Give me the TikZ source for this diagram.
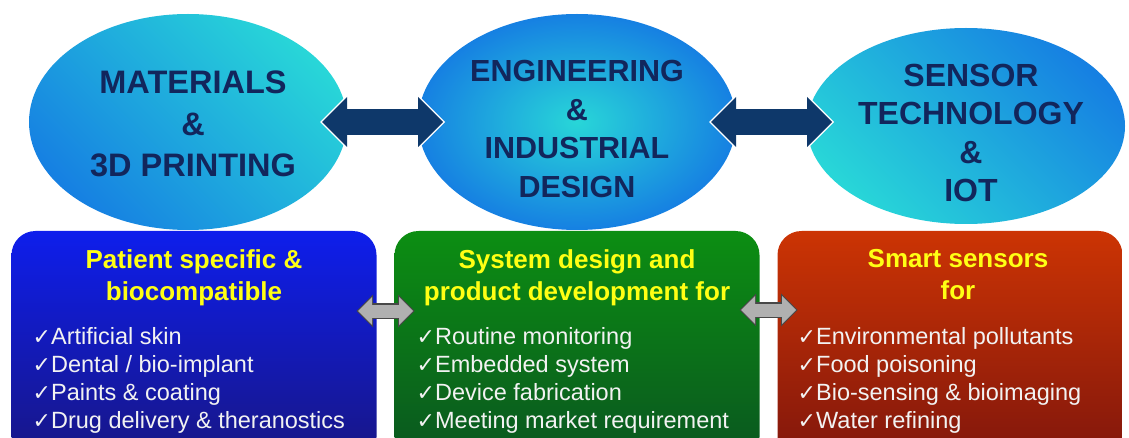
\documentclass[tikz,border=0pt]{standalone}
\usepackage{fontspec}
\setmainfont{Liberation Sans}
\newfontfamily\symfont{DejaVu Sans}
\usetikzlibrary{arrows.meta, shapes.geometric, positioning, calc}
\definecolor{ovalnavy}{RGB}{18,38,92}
\definecolor{ovalcyan}{RGB}{40,214,216}
\definecolor{ovalblue}{RGB}{22,128,226}
\definecolor{linknavy}{RGB}{14,56,106}
\definecolor{linkgray}{RGB}{176,176,176}
\definecolor{linkedge}{RGB}{72,72,72}
\definecolor{titleyellow}{RGB}{255,255,20}
\definecolor{itemwhite}{RGB}{242,242,242}
\definecolor{bluetop}{RGB}{14,30,236}
\definecolor{bluebot}{RGB}{24,22,132}
\definecolor{greentop}{RGB}{12,142,18}
\definecolor{greenbot}{RGB}{10,86,32}
\definecolor{redtop}{RGB}{204,52,4}
\definecolor{redbot}{RGB}{128,22,12}
\newcommand{\tickmark}{{\symfont\fontsize{22}{28}\selectfont ✓}}

\tikzset{
  oval/.style={ellipse, draw=none, minimum width=318pt, minimum height=216pt, inner sep=0pt, outer sep=0pt},
  ovaltext/.style={text=ovalnavy, align=center, inner sep=0pt},
  panel/.style={rectangle, rounded corners=24pt, minimum width=365pt, minimum height=230pt, inner sep=0pt, outer sep=0pt},
  paneltitle/.style={anchor=north, text=titleyellow, align=center, inner sep=0pt, font=\fontsize{26}{32}\selectfont\bfseries},
  panellist/.style={anchor=north west, text=itemwhite, align=left, inner sep=0pt, font=\fontsize{23.5}{28}\selectfont},
  navylink/.style={draw=linknavy, line width=26pt, shorten <=-25pt, shorten >=-25pt,
    arrows={Triangle[length=25pt, width=50pt, line width=0pt]}-{Triangle[length=25pt, width=50pt, line width=0pt]},
    preaction={draw=white, line width=26pt, shorten <=-27pt, shorten >=-27pt,
      arrows={Triangle[length=27.5pt, width=55pt, line width=0pt]}-{Triangle[length=27.5pt, width=55pt, line width=0pt]}}},
  graylink/.style={draw=linkgray, line width=13pt, shorten <=-18.5pt, shorten >=-18.5pt,
    arrows={Triangle[length=14pt, width=28pt, line width=0pt]}-{Triangle[length=14pt, width=28pt, line width=0pt]},
    preaction={draw=linkedge, line width=16pt, shorten <=-20pt, shorten >=-20pt,
      arrows={Triangle[length=16.5pt, width=33pt, line width=0pt]}-{Triangle[length=16.5pt, width=33pt, line width=0pt]}}}
}

\begin{document}
\begin{tikzpicture}[x=1pt, y=-1pt]
  \clip (0,0) rectangle (1129,438);

  % the three fields
  \node[oval, top color=ovalcyan, bottom color=ovalblue, shading angle=-45] at (188,122) (mat) {};
  \node[oval, right=71pt of mat, inner color=ovalcyan, outer color=ovalblue] (eng) {};
  \node[oval, right=71pt of eng, yshift=-4pt, minimum height=196pt, top color=ovalblue, bottom color=ovalcyan, shading angle=-45] (sen) {};

  \draw[navylink] (mat.east) -- (eng.west);
  \draw[navylink] (eng.east) -- (eng.east -| sen.west);

  \node[ovaltext, font=\fontsize{32.5}{41.5}\selectfont\bfseries] at ([xshift=5pt, yshift=-2pt]mat.center) (mattext) {MATERIALS\\\&\\3D PRINTING};
  \node[ovaltext, font=\fontsize{30.5}{38.5}\selectfont\bfseries] at ([yshift=-7pt]eng.center) (engtext) {ENGINEERING\\\&\\INDUSTRIAL\\DESIGN};
  \node[ovaltext, font=\fontsize{32}{38.5}\selectfont\bfseries] at ([xshift=5pt, yshift=-7pt]sen.center) (sentext) {SENSOR\\TECHNOLOGY\\\&\\IOT};

  % the three panels
  \node[panel, anchor=north, top color=bluetop, bottom color=bluebot] at (194,231) (pat) {};
  \node[panel, right=18pt of pat, top color=greentop, bottom color=greenbot] (sys) {};
  \node[panel, right=18pt of sys, minimum width=345pt, top color=redtop, bottom color=redbot] (sma) {};

  \draw[graylink] ([yshift=35pt]pat.east) -- ([yshift=35pt]sys.west);
  \draw[graylink] ([yshift=36pt]sys.east) -- ([yshift=36pt]sma.west);

  \node[paneltitle] at ([yshift=-18pt]pat.north) (pattitle) {Patient specific \&\\biocompatible};
  \node[paneltitle] at ([yshift=-18pt]sys.north) (systitle) {System design and\\product development for};
  \node[paneltitle] at ([xshift=8pt, yshift=-18pt]sma.north) (smatitle) {Smart sensors\\for};

  \node[panellist] at ([xshift=21pt, yshift=-96pt]pat.north west) (patlist) {\tickmark Artificial skin\\\tickmark Dental / bio-implant\\\tickmark Paints \& coating\\\tickmark Drug delivery \& theranostics};
  \node[panellist] at ([xshift=22pt, yshift=-96pt]sys.north west) (syslist) {\tickmark Routine monitoring\\\tickmark Embedded system\\\tickmark Device fabrication\\\tickmark Meeting market requirement};
  \node[panellist] at ([xshift=20pt, yshift=-96pt]sma.north west) (smalist) {\tickmark Environmental pollutants\\\tickmark Food poisoning\\\tickmark Bio-sensing \& bioimaging\\\tickmark Water refining};
\end{tikzpicture}
\end{document}
